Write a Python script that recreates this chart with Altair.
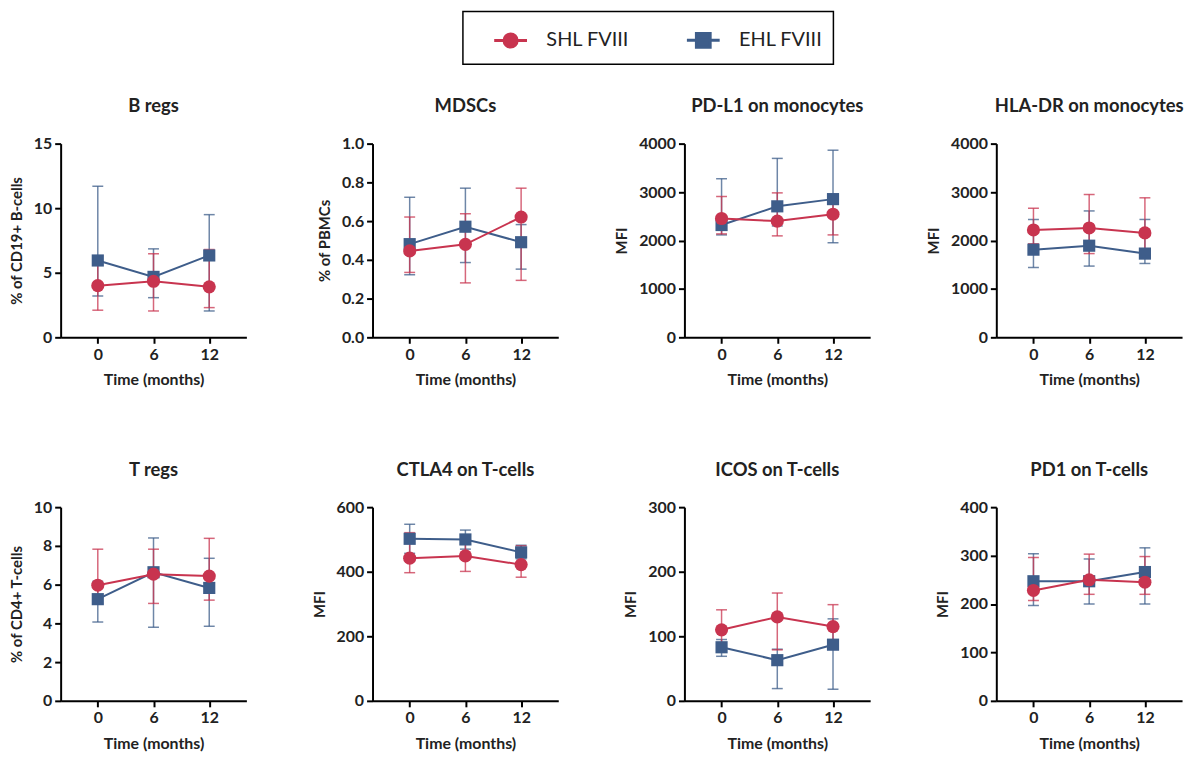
import altair as alt
import pandas as pd

# ---------------- data ----------------
times = [0, 6, 12]
groups = ["SHL FVIII", "EHL FVIII"]
panels = ["B regs", "MDSCs", "PD-L1 on monocytes", "HLA-DR on monocytes",
          "T regs", "CTLA4 on T-cells", "ICOS on T-cells", "PD1 on T-cells"]
y_titles = ["% of CD19+ B-cells", "% of  PBMCs", "MFI", "MFI",
            "% of CD4+ T-cells", "MFI", "MFI", "MFI"]
y_max = [15, 1.0, 4000, 4000, 10, 600, 300, 400]
y_step = [5, 0.2, 1000, 1000, 2, 200, 100, 100]
y_fmt = ["d", ".1f", "d", "d", "d", "d", "d", "d"]

# SHL FVIII (red, circles): mean / lower / upper at 0, 6, 12 months
shl_mean = [[4.0, 4.34, 3.91], [0.446, 0.48, 0.621], [2454, 2400, 2542], [2217, 2258, 2156],
            [5.97, 6.54, 6.44], [442, 449, 422], [110, 130, 115], [228, 250, 245]]
shl_lo = [[2.1, 2.04, 2.3], [0.335, 0.281, 0.294], [2136, 2095, 2115], [1932, 1729, 1742],
          [5.03, 5.03, 5.2], [397, 401, 383], [80, 79, 86], [207, 220, 220]]
shl_hi = [[6.3, 6.47, 6.8], [0.621, 0.638, 0.77], [2908, 2983, 2759], [2664, 2949, 2881],
          [7.83, 7.83, 8.39], [521, 497, 480], [141, 167, 149], [296, 303, 298]]

# EHL FVIII (blue, squares)
ehl_mean = [[5.95, 4.68, 6.34], [0.481, 0.571, 0.491], [2319, 2705, 2854], [1810, 1892, 1729],
            [5.25, 6.64, 5.83], [502, 500, 460], [83, 63, 87], [247, 247, 266]]
ehl_lo = [[3.2, 3.07, 2.04], [0.323, 0.386, 0.352], [2115, 2300, 1953], [1444, 1471, 1525],
          [4.07, 3.8, 3.85], [457, 470, 440], [69, 19, 18], [197, 200, 200]]
ehl_hi = [[11.7, 6.85, 9.5], [0.723, 0.77, 0.582], [3275, 3695, 3864], [2434, 2610, 2434],
          [6.17, 8.41, 7.36], [547, 529, 482], [95, 80, 127], [304, 293, 316]]

RED = "#c8344f"
BLUE = "#3e5d8a"
FONT = "Lato"

rows = []
for i, p in enumerate(panels):
    for g, m, lo, hi in [("EHL FVIII", ehl_mean, ehl_lo, ehl_hi),
                         ("SHL FVIII", shl_mean, shl_lo, shl_hi)]:
        for j, t in enumerate(times):
            rows.append({"panel": p, "group": g, "time": t,
                         "mean": m[i][j], "lo": lo[i][j], "hi": hi[i][j]})
df = pd.DataFrame(rows)

circle_path = "M-1,0H1M-0.4,0A0.4,0.4,0,1,1,0.4,0A0.4,0.4,0,1,1,-0.4,0Z"
square_path = "M-1,0H1M-0.42,-0.42H0.42V0.42H-0.42Z"

legend_spec = dict(title=None, orient="none", legendX=405, legendY=-133,
                   direction="horizontal", columns=2, symbolSize=1089,
                   symbolStrokeWidth=3, labelFontSize=20, labelFont=FONT,
                   labelColor="#222222", padding=11, symbolOffset=19,
                   labelOffset=18, columnPadding=37, strokeColor="black",
                   labelLimit=300)

series_style = [("EHL FVIII", BLUE, "square", 150), ("SHL FVIII", RED, "circle", 175)]


def make_panel(i):
    name = panels[i]
    ymax = y_max[i]
    step = y_step[i]
    n = int(round(ymax / step))
    ticks = [round(k * step, 4) for k in range(n + 1)]
    base = alt.Chart(df).transform_filter(alt.datum.panel == name)
    x = alt.X("time:Q", scale=alt.Scale(domain=[-4, 16], nice=False, zero=False),
              axis=alt.Axis(values=times, title="Time (months)", format="d"))
    yscale = alt.Scale(domain=[0, ymax], nice=False)
    yaxis = alt.Axis(values=ticks, title=y_titles[i], format=y_fmt[i])

    def Y(field):
        return alt.Y(field, scale=yscale, axis=yaxis, title=y_titles[i])

    layers = []
    # error bars (behind)
    for g, col, shape, size in series_style:
        sub = base.transform_filter(alt.datum.group == g)
        layers.append(sub.mark_rule(strokeWidth=1.5, opacity=0.75, color=col).encode(
            x=x, y=Y("lo:Q"), y2="hi:Q"))
        layers.append(sub.transform_fold(["lo", "hi"], as_=["k", "v"]).mark_tick(
            orient="horizontal", size=11, thickness=1.5, opacity=0.75, color=col).encode(
            x=x, y=Y("v:Q")))
    # lines and markers
    for g, col, shape, size in series_style:
        sub = base.transform_filter(alt.datum.group == g)
        layers.append(sub.mark_line(strokeWidth=2, color=col).encode(x=x, y=Y("mean:Q")))
        layers.append(sub.mark_point(filled=True, shape=shape, size=size, opacity=1,
                                     color=col).encode(x=x, y=Y("mean:Q")))
    if i == 0:
        leg = alt.Legend(**legend_spec)
        dummy = base.transform_filter(alt.datum.time > 100).mark_point(
            filled=True, strokeWidth=3, opacity=1).encode(
            x=x, y=Y("mean:Q"),
            fill=alt.Fill("group:N", scale=alt.Scale(domain=groups, range=[RED, BLUE]), legend=leg),
            stroke=alt.Stroke("group:N", scale=alt.Scale(domain=groups, range=[RED, BLUE]), legend=leg),
            shape=alt.Shape("group:N", scale=alt.Scale(domain=groups, range=[circle_path, square_path]),
                            legend=leg))
        layers.append(dummy)
    return alt.layer(*layers).properties(
        width=187, height=195,
        title=alt.TitleParams(text=name, anchor="middle"))


chart = alt.concat(*[make_panel(i) for i in range(8)], columns=4,
                   spacing=alt.RowColnumber(row=171, column=127),
                   bounds="flush").properties(
    padding={"left": 1, "top": 0, "right": 5, "bottom": 5}
).configure_view(stroke=None).configure_axis(
    domainColor="black", domainWidth=2, tickColor="black", tickWidth=2, tickSize=6,
    labelFont=FONT, labelFontSize=16, labelFontWeight="bold", labelColor="#222222",
    titleFont=FONT, titleFontSize=15, titleFontWeight="bold", titleColor="#222222",
    grid=False, labelPadding=3,
).configure_axisX(titlePadding=10, titleFontSize=16).configure_axisY(titlePadding=9).configure_title(
    font=FONT, fontSize=18.5, fontWeight="bold", color="#222222", offset=20
).configure_legend(strokeWidth=1.5)

chart.save("out.html", embed_options={"renderer": "svg", "actions": False})
